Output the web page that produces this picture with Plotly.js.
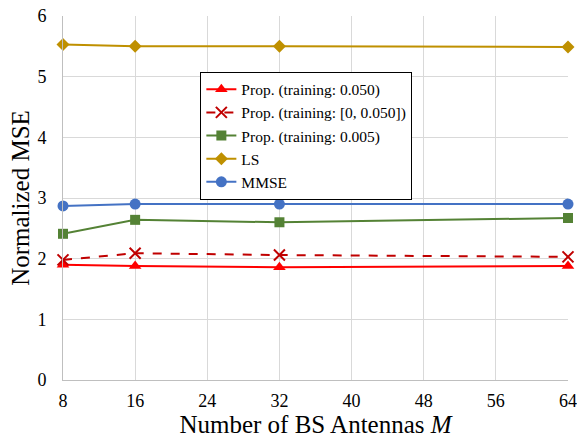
<!DOCTYPE html>
<html><head><meta charset="utf-8">
<script src="https://cdn.plot.ly/plotly-3.0.1.min.js"></script>
<style>html,body{margin:0;padding:0;background:#fff}#c{width:577px;height:445px}</style>
</head><body><div id="c"></div>
<script>
const antennas = [8, 16, 32, 64];
const propTrain050 = [1.90, 1.88, 1.86, 1.88];
const propTrainRange = [1.98, 2.09, 2.06, 2.03];
const propTrain005 = [2.41, 2.64, 2.60, 2.67];
const lsVals = [5.53, 5.50, 5.50, 5.49];
const mmseVals = [2.87, 2.90, 2.90, 2.90];
const xTicks = [8, 16, 24, 32, 40, 48, 56, 64];

const traces = [
  {x: antennas, y: propTrain050, name: 'Prop. (training: 0.050)', mode: 'lines+markers',
   line: {color: '#FF0000', width: 2}, marker: {symbol: 'triangle-up', size: 11, color: '#FF0000'}},
  {x: antennas, y: propTrainRange, name: 'Prop. (training: [0, 0.050])', mode: 'lines+markers',
   line: {color: '#C00000', width: 2, dash: 'dash'}, marker: {symbol: 'x-thin-open', size: 11, color: '#C00000', line: {color: '#C00000', width: 2}}},
  {x: antennas, y: propTrain005, name: 'Prop. (training: 0.005)', mode: 'lines+markers',
   line: {color: '#548235', width: 2}, marker: {symbol: 'square', size: 10, color: '#548235'}},
  {x: antennas, y: lsVals, name: 'LS', mode: 'lines+markers',
   line: {color: '#BF9000', width: 2}, marker: {symbol: 'diamond', size: 10, color: '#BF9000'}},
  {x: antennas, y: mmseVals, name: 'MMSE', mode: 'lines+markers',
   line: {color: '#4472C4', width: 2}, marker: {symbol: 'circle', size: 11, color: '#4472C4'}}
];
traces.forEach(t => t.cliponaxis = false);

const serif = '"Liberation Serif", "Times New Roman", serif';
const layout = {
  width: 577, height: 445,
  margin: {l: 63, r: 9, t: 16, b: 65},
  paper_bgcolor: '#fff', plot_bgcolor: '#fff',
  font: {family: serif, color: '#000', size: 18},
  showlegend: true,
  legend: {x: 0.272, y: 0.847, xanchor: 'left', yanchor: 'top', bordercolor: '#000', borderwidth: 1,
           bgcolor: '#fff', font: {family: serif, size: 15.5, color: '#000'}, tracegroupgap: 0, itemwidth: 30},
  xaxis: {range: [8, 64], tickvals: xTicks, ticktext: xTicks.map(String), showgrid: true, gridcolor: '#D9D9D9',
          showline: true, linecolor: '#BFBFBF', zeroline: false, ticks: '', ticklen: 0, ticklabeloverflow: 'allow',
          ticklabelstandoff: 4,
          tickfont: {family: serif, size: 18, color: '#000'},
          title: {text: 'Number of BS Antennas <i>M</i>', font: {family: serif, size: 25, color: '#000'}, standoff: 4}},
  yaxis: {range: [0, 6], dtick: 1, showgrid: true, gridcolor: '#D9D9D9', showline: true, linecolor: '#BFBFBF',
          zeroline: false, ticks: '', ticklabelstandoff: 12, tickfont: {family: serif, size: 18, color: '#000'},
          title: {text: 'Normalized MSE', font: {family: serif, size: 25, color: '#000'}, standoff: 0}}
};
Plotly.newPlot('c', traces, layout, {displayModeBar: false, staticPlot: true});
</script></body></html>
